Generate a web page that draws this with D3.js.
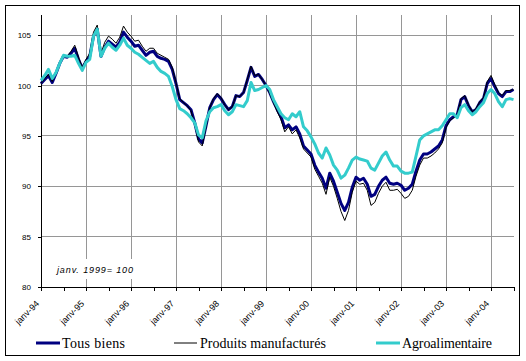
<!DOCTYPE html>
<html><head><meta charset="utf-8">
<script src="https://cdn.jsdelivr.net/npm/d3@7"></script>
<style>body{margin:0;background:#fff}svg{display:block}</style>
</head><body><svg id="c" width="526" height="361"></svg>
<script>
// Data: monthly index, janv. 1999 = 100, from janv-94 to juil-04
const monthNames = ["janv","févr","mars","avr","mai","juin","juil","août","sept","oct","nov","déc"];
const years = ["94","95","96","97","98","99","00","01","02","03","04"];
const categories = [];
years.forEach(y => monthNames.forEach(m => categories.push(m + "-" + y)));
categories.length = 127; // janv-94 .. juil-04

const tousBiens = [
100.2,100.6,101.0,100.3,101.2,102.2,102.9,102.8,103.2,103.7,102.6,101.7,
102.4,102.9,104.9,105.6,102.9,103.8,104.4,104.1,103.8,104.3,105.3,104.8,
104.4,103.9,104.0,103.5,103.0,103.3,103.4,102.9,102.7,102.6,102.4,101.6,
100.2,98.6,98.3,98.0,97.6,96.3,94.7,94.3,96.0,97.8,98.6,99.1,
98.7,98.1,97.6,97.9,99.0,98.9,99.3,100.5,101.8,100.9,101.1,100.6,
100.0,99.3,98.4,97.6,96.9,95.8,96.1,95.6,95.9,95.2,94.0,93.6,
93.2,92.1,91.4,90.8,89.8,91.3,90.5,89.4,88.3,87.6,88.4,89.9,
90.9,90.6,90.8,90.2,89.0,89.2,90.0,90.6,90.9,90.3,90.2,90.3,
90.1,89.6,89.8,90.2,91.5,92.6,93.2,93.2,93.4,93.7,94.0,94.6,
96.0,96.6,96.9,97.1,98.6,98.9,98.0,97.4,97.6,98.3,98.7,100.2,
100.7,99.9,99.2,98.9,99.4,99.4,99.6];

const produitsManufactures = [
100.2,100.7,101.1,100.4,101.3,102.3,103.0,102.9,103.4,104.0,102.8,101.8,
102.6,103.2,105.3,106.0,103.2,104.3,104.9,104.6,104.2,104.8,105.9,105.3,
104.9,104.4,104.5,103.9,103.4,103.7,103.7,103.2,103.0,102.8,102.6,101.8,
100.3,98.7,98.3,98.0,97.5,96.1,94.4,94.0,95.9,97.8,98.7,99.2,
98.8,98.1,97.6,97.9,99.0,98.9,99.3,100.6,101.9,101.0,101.1,100.6,
100.0,99.2,98.3,97.4,96.6,95.4,95.9,95.2,95.6,94.8,93.7,93.3,
92.9,91.7,91.0,90.3,89.2,90.9,90.0,88.8,87.5,86.6,87.6,89.4,
90.5,90.2,90.3,89.6,88.1,88.4,89.3,90.0,90.4,89.6,89.6,89.7,
89.3,88.8,89.0,89.6,91.0,92.1,92.8,92.8,93.0,93.3,93.7,94.3,
95.8,96.5,96.8,97.1,98.7,99.0,98.1,97.4,97.7,98.4,98.8,100.4,
101.0,100.1,99.3,99.0,99.5,99.5,99.6];

const agroalimentaire = [
100.5,101.0,101.6,100.7,101.3,102.2,103.0,102.9,102.9,103.0,102.2,101.5,
102.3,102.6,104.9,105.6,102.9,103.7,104.2,103.8,103.5,104.0,104.7,104.0,
103.7,103.3,103.1,102.8,102.5,102.2,102.4,101.8,101.4,101.2,100.9,99.9,
98.6,97.7,97.5,97.2,96.8,96.3,95.1,94.8,96.5,97.4,97.8,97.9,
98.1,97.5,97.1,97.4,98.1,98.0,97.9,98.5,100.3,99.5,99.6,99.8,
100.0,99.6,98.6,97.9,97.2,96.8,96.6,97.2,96.9,97.4,95.9,95.5,
94.9,94.2,93.3,92.8,93.8,93.1,92.1,91.6,90.8,91.1,91.8,92.6,
92.9,92.7,92.6,92.5,91.8,91.6,92.3,93.0,93.4,92.6,92.0,92.0,
91.5,91.3,91.3,91.4,93.0,94.6,95.0,95.2,95.4,95.6,95.6,96.0,
96.6,97.2,97.2,96.8,97.8,98.1,97.5,97.1,97.4,97.9,98.3,99.2,
99.6,99.2,98.4,97.9,98.6,98.7,98.6];

const yTicks = [80, 85, 90, 95, 100, 105];
const xTickLabels = ["janv-94","janv-95","janv-96","janv-97","janv-98","janv-99","janv-00","janv-01","janv-02","janv-03","janv-04"];
const minorTicks = ["juil-94","juil-95","juil-96","juil-97","juil-98","juil-99","juil-00","juil-01","juil-02","juil-03","juil-04"];
const seriesNames = ["Tous biens","Produits manufacturés","Agroalimentaire"];
const note = "janv. 1999= 100";

const svg = d3.select("#c");
const L = 41, R = 513.5, T = 15, B = 287;
const x = d3.scalePoint().domain(categories).range([L, R]);
const y = d3.scaleLinear().domain([80, 107]).range([B, T]);

// outer frame
svg.append("rect").attr("x",5.5).attr("y",5.5).attr("width",514).attr("height",350)
  .attr("fill","#fff").attr("stroke","#000").attr("stroke-width",1);

// gridlines
const grid = svg.append("g").attr("stroke","#969696").attr("stroke-width",1).attr("shape-rendering","crispEdges");
yTicks.filter(v => v > 80).forEach(v => {
  grid.append("line").attr("x1",L).attr("x2",R).attr("y1",y(v)).attr("y2",y(v));
});
xTickLabels.slice(1).forEach(c => {
  grid.append("line").attr("x1",x(c)).attr("x2",x(c)).attr("y1",T).attr("y2",B);
});

// note with white background
const noteG = svg.append("g");
noteG.append("rect").attr("x",52).attr("y",259).attr("width",88).attr("height",20).attr("fill","#fff");
noteG.append("text").attr("x",57).attr("y",273).attr("font-family","Liberation Sans, Arial, sans-serif")
  .attr("font-size",9).attr("font-style","italic").attr("textLength",76).attr("lengthAdjust","spacing")
  .text(note);

// axes
const yAxis = d3.axisLeft(y).tickValues(yTicks).tickSize(3).tickPadding(7).tickFormat(d3.format("d"));
const gy = svg.append("g").attr("transform",`translate(${L},0)`).call(yAxis);
gy.select(".domain").attr("d",`M0,${T}V${B}`);
gy.selectAll("text").attr("font-family","Liberation Sans, Arial, sans-serif").attr("font-size",8);

const tickCats = categories.filter(c => xTickLabels.includes(c) || minorTicks.includes(c));
const xAxis = d3.axisBottom(x).tickValues(tickCats).tickSize(4).tickFormat(d => xTickLabels.includes(d) ? d : "");
const gx = svg.append("g").attr("transform",`translate(0,${B})`).call(xAxis);
gx.select(".domain").attr("d",`M${L},0H${R}`);
gx.selectAll("text").attr("font-family","Liberation Sans, Arial, sans-serif").attr("font-size",9)
  .attr("text-anchor","end").attr("transform","translate(-4,15) rotate(-45)").attr("dy","0.35em").attr("y",0).attr("x",0);
svg.selectAll(".domain, .tick line").attr("stroke","#000").attr("shape-rendering","crispEdges");

// lines
const line = d3.line().x((d,i) => x(categories[i])).y(d => y(d));
svg.append("path").datum(tousBiens).attr("d",line).attr("fill","none").attr("stroke","#000080").attr("stroke-width",3).attr("stroke-linejoin","round");
svg.append("path").datum(produitsManufactures).attr("d",line).attr("fill","none").attr("stroke","#000").attr("stroke-width",1);
svg.append("path").datum(agroalimentaire).attr("d",line).attr("fill","none").attr("stroke","#33CCCC").attr("stroke-width",3).attr("stroke-linejoin","round");

// legend
const legend = [
  {name: seriesNames[0], color:"#000080", w:3, x1:36, x2:60, tx:62, tl:63},
  {name: seriesNames[1], color:"#000", w:1, x1:174, x2:197, tx:200, tl:126},
  {name: seriesNames[2], color:"#33CCCC", w:3, x1:376, x2:400, tx:402, tl:90}
];
const lg = svg.append("g");
legend.forEach(it => {
  lg.append("line").attr("x1",it.x1).attr("x2",it.x2).attr("y1",343).attr("y2",343)
    .attr("stroke",it.color).attr("stroke-width",it.w);
  lg.append("text").attr("x",it.tx).attr("y",347.5).attr("font-family","Liberation Serif, 'Times New Roman', serif")
    .attr("font-size",14).attr("textLength",it.tl).attr("lengthAdjust","spacing").text(it.name);
});
</script></body></html>
